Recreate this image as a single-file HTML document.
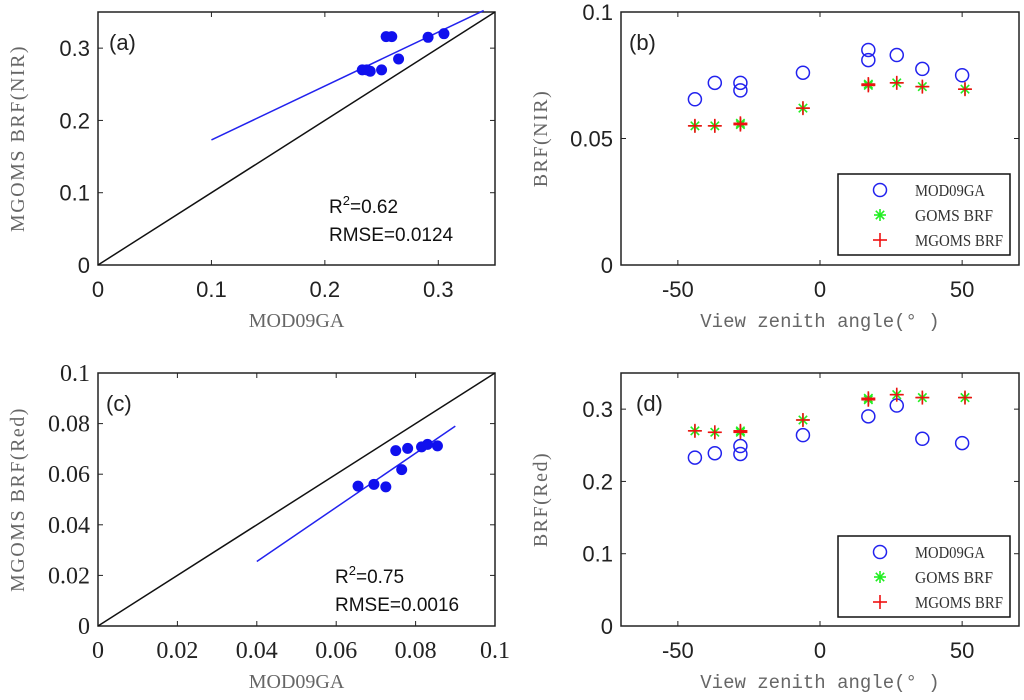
<!DOCTYPE html>
<html><head><meta charset="utf-8"><style>
body{margin:0;background:#fff}
svg{display:block}
.tk{font-family:"Liberation Sans",sans-serif;font-size:22px;fill:#222}
.tks{font-family:"Liberation Serif",serif;font-size:24px;fill:#222}
.al{font-family:"Liberation Serif","Noto Serif CJK SC",serif;font-size:20px;fill:#666}
.am{font-family:"Liberation Mono",monospace;font-size:19px;fill:#666}
.an{font-family:"Liberation Sans",sans-serif;font-size:19px;fill:#111}
.lg{font-family:"Liberation Serif",serif;font-size:17px;fill:#333}
</style></head><body>
<svg id="c" width="1024" height="700" xmlns="http://www.w3.org/2000/svg"></svg>
<script>
const aX=[0.233,0.237,0.240,0.250,0.254,0.259,0.265,0.291,0.305];
const aY=[0.270,0.270,0.268,0.270,0.316,0.316,0.285,0.315,0.320];
const aFit=[[0.1,0.173],[0.34,0.352]];
const cX=[0.0655,0.0695,0.0725,0.075,0.0765,0.078,0.0815,0.083,0.0855];
const cY=[0.0553,0.056,0.055,0.0693,0.0618,0.0702,0.0708,0.0718,0.0712];
const cFit=[[0.04,0.0255],[0.09,0.079]];
const bModX=[-44,-37,-28,-28,-6,17,17,27,36,50];
const bModY=[0.0655,0.072,0.072,0.069,0.076,0.085,0.081,0.083,0.0775,0.075];
const bGX=[-44,-37,-28,-28,-6,17,17,27,36,51];
const bGY=[0.055,0.055,0.0555,0.056,0.062,0.0715,0.071,0.072,0.0705,0.0695];
const dModX=[-44,-37,-28,-28,-6,17,27,36,50];
const dModY=[0.233,0.239,0.249,0.238,0.264,0.290,0.305,0.259,0.253];
const dGX=[-44,-37,-28,-28,-6,17,17,27,36,51];
const dGY=[0.270,0.268,0.270,0.268,0.285,0.315,0.313,0.320,0.316,0.316];
const tA=[0,0.1,0.2,0.3];
const tC=[0,0.02,0.04,0.06,0.08,0.1];
const tB=[0,0.05,0.1];
const tAng=[-50,0,50];

const S=document.getElementById('c');const NS='http://www.w3.org/2000/svg';
function el(t,a,p){const e=document.createElementNS(NS,t);for(const k in a)e.setAttribute(k,a[k]);(p||S).appendChild(e);return e;}
function panel(name,L,R,T,B,x0,x1,y0,y1,xt,yt,cls,fmt,xl,xcls,yl,tag,tagx){
  const g=el('g',{});
  
  
  const sx=v=>L+(v-x0)/(x1-x0)*(R-L), sy=v=>B-(v-y0)/(y1-y0)*(B-T);
  const fr=el('rect',{x:L,y:T,width:R-L,height:B-T,fill:'none',stroke:'#222','stroke-width':1.5},g);
  
  xt.forEach(v=>{const x=sx(v);el('line',{x1:x,x2:x,y1:B,y2:B-5,stroke:'#222'},g);el('line',{x1:x,x2:x,y1:T,y2:T+5,stroke:'#222'},g);
    const t=el('text',{x:x,y:B+32,'text-anchor':'middle',class:cls},g);t.textContent=fmt(v);
    });
  yt.forEach(v=>{const y=sy(v);el('line',{x1:L,x2:L+5,y1:y,y2:y,stroke:'#222'},g);el('line',{x1:R,x2:R-5,y1:y,y2:y,stroke:'#222'},g);
    const t=el('text',{x:L-8,y:y+8,'text-anchor':'end',class:cls},g);t.textContent=fmt(v);
    });
  const xlab=el('text',{x:(L+R)/2,y:B+62,'text-anchor':'middle',class:xcls},g);xlab.textContent=xl;
  
  const ylab=el('text',{x:0,y:0,'text-anchor':'middle',class:'al','letter-spacing':'1.5',transform:`translate(${L-74},${(T+B)/2}) rotate(-90)`},g);ylab.textContent=yl;
  
  const tg=el('text',{x:tagx,y:T+38,class:'tk'},g);tg.textContent=tag;
  
  return {g,sx,sy};
}
function scatter(p,X,Y,fit,diag){
  const l=el('line',{x1:p.sx(diag[0]),y1:p.sy(diag[0]),x2:p.sx(diag[1]),y2:p.sy(diag[1]),stroke:'#111','stroke-width':1.5},p.g);
  
  const f=el('line',{x1:p.sx(fit[0][0]),y1:p.sy(fit[0][1]),x2:p.sx(fit[1][0]),y2:p.sy(fit[1][1]),stroke:'#2222ee','stroke-width':1.5},p.g);
  
  X.forEach((x,i)=>{const c=el('circle',{cx:p.sx(x),cy:p.sy(Y[i]),r:5.5,fill:'#1010ee'},p.g);
    });
}
function star(g,x,y){const s=6;[[0,1],[1,0],[.7,.7],[.7,-.7]].forEach(d=>el('line',{x1:x-d[0]*s,y1:y-d[1]*s,x2:x+d[0]*s,y2:y+d[1]*s,stroke:'#22ee22','stroke-width':1.6},g));}
function plus(g,x,y){const s=7;el('line',{x1:x-s,x2:x+s,y1:y,y2:y,stroke:'#ee1111','stroke-width':1.6},g);el('line',{x1:x,x2:x,y1:y-s,y2:y+s,stroke:'#ee1111','stroke-width':1.6},g);}
function angle(p,MX,MY,GX,GY,lx,ly){
  MX.forEach((x,i)=>{const c=el('circle',{cx:p.sx(x),cy:p.sy(MY[i]),r:6.5,fill:'none',stroke:'#2222ee','stroke-width':1.5},p.g);
    });
  GX.forEach((x,i)=>{const g=el('g',{},p.g);star(g,p.sx(x),p.sy(GY[i]));});
  GX.forEach((x,i)=>{const g=el('g',{},p.g);plus(g,p.sx(x),p.sy(GY[i]));});
  const lg=el('g',{},p.g);
  el('rect',{x:lx,y:ly,width:172,height:81,fill:'#fff',stroke:'#111','stroke-width':1.5},lg);
  const names=['MOD09GA','GOMS BRF','MGOMS BRF'];
  const lens=[70,78,88];
  names.forEach((n,i)=>{const y=ly+16+i*25;const e=el('g',{},lg);
    if(i==0)el('circle',{cx:lx+42,cy:y,r:6.5,fill:'none',stroke:'#2222ee','stroke-width':1.5},e);
    if(i==1)star(e,lx+42,y);if(i==2)plus(e,lx+42,y);
    const t=el('text',{x:lx+77,y:y+6,class:'lg',textLength:lens[i],lengthAdjust:'spacingAndGlyphs'},e);t.textContent=n;});
}
function ann(p,x,y,r2,rm){const t=el('text',{x:x,y:y,class:'an'},p.g);t.innerHTML='R<tspan dy="-8" font-size="13">2</tspan><tspan dy="8">='+r2+'</tspan>';
  
  const u=el('text',{x:x,y:y+28,class:'an'},p.g);u.textContent='RMSE='+rm;}
const fs=v=>String(+v.toFixed(2));
const pa=panel('panel-a',98,495,12,265,0,0.35,0,0.35,tA,tA,'tk',fs,'MOD09GA','al','MGOMS  BRF(NIR)','(a)',109);
scatter(pa,aX,aY,aFit,[0,0.35]);ann(pa,329,213,'0.62','0.0124');
const pc=panel('panel-c',98,495,373,626,0,0.1,0,0.1,tC,tC,'tks',fs,'MOD09GA','al','MGOMS  BRF(Red)','(c)',106);
scatter(pc,cX,cY,cFit,[0,0.1]);ann(pc,335,583,'0.75','0.0016');
const pb=panel('panel-b',621,1019,12,265,-70,70,0,0.1,tAng,tB,'tk',fs,'View zenith angle(° )','am','BRF(NIR)','(b)',629);
angle(pb,bModX,bModY,bGX,bGY,838,174);
const pd=panel('panel-d',621,1019,373,626,-70,70,0,0.35,tAng,tA,'tk',fs,'View zenith angle(° )','am','BRF(Red)','(d)',636);
angle(pd,dModX,dModY,dGX,dGY,838,536);
</script>
</body></html>
